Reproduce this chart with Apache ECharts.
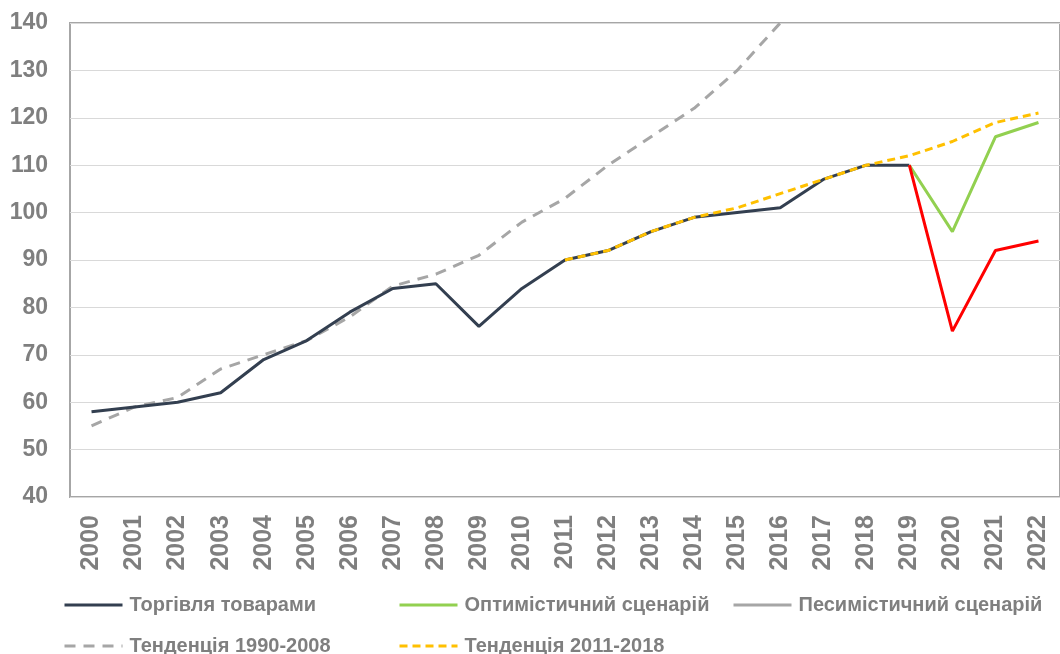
<!DOCTYPE html>
<html lang="uk">
<head>
    <meta charset="UTF-8">
    <title>Торгівля товарами</title>
    <script type="text/javascript" src="https://cdn.jsdelivr.net/npm/echarts@6/dist/echarts.min.js"></script>
    <style>
        html, body { margin: 0; padding: 0; background: #fff; }
    </style>
</head>
<body>
<div id="main" style="width:1060px;height:654px;"></div>
<script type="text/javascript">
    // роки
    var years = ['2000','2001','2002','2003','2004','2005','2006','2007','2008','2009','2010',
        '2011','2012','2013','2014','2015','2016','2017','2018','2019','2020','2021','2022'];
    // торгівля товарами
    var trade = [58, 59, 60, 62, 69, 73, 79, 84, 85, 76, 84, 90, 92, 96, 99, 100, 101, 107, 110, 110, null, null, null];
    // сценарії
    var optimistic = [null, null, null, null, null, null, null, null, null, null, null, null, null, null, null, null, null, null, null, 110, 96, 116, 119];
    var pessimistic = [null, null, null, null, null, null, null, null, null, null, null, null, null, null, null, null, null, null, null, 110, 75, 92, 94];
    // тенденції
    var trend1990 = [55, 59, 61, 67, 70, 73, 78, 84.5, 87, 91, 98, 103, 110, 116, 122, 130, 140, null, null, null, null, null, null];
    var trend2011 = [null, null, null, null, null, null, null, null, null, null, null, 90, 92, 96, 99, 101, 104, 107, 110, 112, 115, 119, 121];
    var yTicks = { min: 40, max: 140, step: 10 };

    var font = '"Liberation Sans", Arial, sans-serif';
    var grey = '#7f7f7f';

    var myChart = echarts.init(document.getElementById('main'));

    // кожен пункт легенди окремо, щоб стояли колонками
    function oneLegend(name, left, top, lineColor) {
        var item = { name: name };
        if (lineColor) { item.lineStyle = { color: lineColor }; }
        return {
            data: [item],
            left: left,
            top: top,
            itemWidth: 58,
            itemHeight: 14,
            selectedMode: false,
            itemStyle: { opacity: 0 },
            lineStyle: { width: 3 },
            textStyle: { color: grey, fontSize: 20, fontWeight: 'bold', fontFamily: font, padding: [0, 0, 0, 2] }
        };
    }

    var option = {
        animation: false,
        grid: {
            left: 70,
            top: 23,
            width: 998,
            height: 474,
            show: true,
            borderColor: '#a6a6a6',
            borderWidth: 2
        },
        legend: [
            oneLegend('Торгівля товарами', 58, 590),
            oneLegend('Оптимістичний сценарій', 393, 590),
            oneLegend('Песимістичний сценарій', 727, 590, '#a6a6a6'),
            oneLegend('Тенденція 1990-2008', 58, 631),
            oneLegend('Тенденція 2011-2018', 393, 631)
        ],
        xAxis: {
            type: 'category',
            data: years,
            boundaryGap: true,
            axisLine: { show: false },
            axisTick: { show: false },
            axisLabel: {
                rotate: 90,
                interval: 0,
                margin: 18,
                color: grey,
                fontSize: 25,
                fontWeight: 'bold',
                fontFamily: font
            }
        },
        yAxis: {
            type: 'value',
            min: yTicks.min,
            max: yTicks.max,
            interval: yTicks.step,
            axisLine: { show: false },
            axisTick: { show: false },
            splitLine: { lineStyle: { color: '#d9d9d9', width: 1 } },
            axisLabel: {
                margin: 22,
                color: grey,
                fontSize: 23,
                fontWeight: 'bold',
                fontFamily: font
            }
        },
        series: [
            {
                name: 'Тенденція 1990-2008',
                type: 'line',
                data: trend1990,
                symbol: 'none',
                color: '#a6a6a6',
                lineStyle: { width: 3, type: [11, 8] }
            },
            {
                name: 'Торгівля товарами',
                type: 'line',
                data: trade,
                symbol: 'none',
                color: '#333f50',
                lineStyle: { width: 3 }
            },
            {
                name: 'Оптимістичний сценарій',
                type: 'line',
                data: optimistic,
                symbol: 'none',
                color: '#92d050',
                lineStyle: { width: 3 }
            },
            {
                name: 'Песимістичний сценарій',
                type: 'line',
                data: pessimistic,
                symbol: 'none',
                color: '#ff0000',
                lineStyle: { width: 3 }
            },
            {
                name: 'Тенденція 2011-2018',
                type: 'line',
                data: trend2011,
                symbol: 'none',
                color: '#ffc000',
                lineStyle: { width: 3, type: [8, 5] }
            }
        ]
    };
    myChart.setOption(option);
</script>
</body>
</html>
